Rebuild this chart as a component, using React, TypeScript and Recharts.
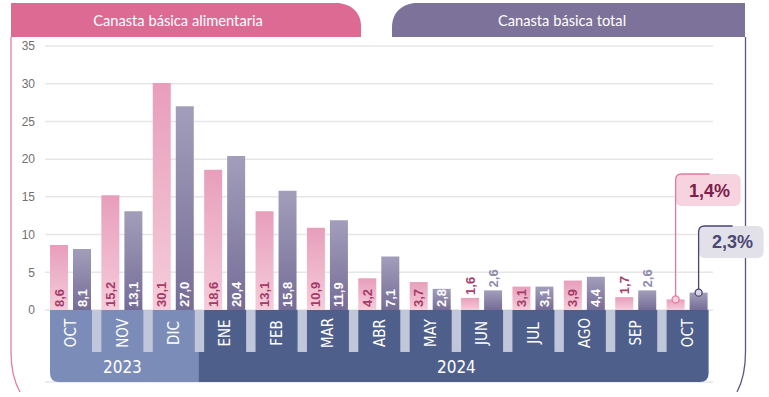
import { Bar, BarChart, CartesianGrid, XAxis, YAxis } from "recharts";

// Variación interanual (%) — octubre 2023 a octubre 2024
const months = ["OCT", "NOV", "DIC", "ENE", "FEB", "MAR", "ABR", "MAY", "JUN", "JUL", "AGO", "SEP", "OCT"];
const years = ["2023", "2023", "2023", "2024", "2024", "2024", "2024", "2024", "2024", "2024", "2024", "2024", "2024"];
const alimentaria = [8.6, 15.2, 30.1, 18.6, 13.1, 10.9, 4.2, 3.7, 1.6, 3.1, 3.9, 1.7, 1.4];
const total = [8.1, 13.1, 27.0, 20.4, 15.8, 11.9, 7.1, 2.8, 2.6, 3.1, 4.4, 2.6, 2.3];
const yTicks = [0, 5, 10, 15, 20, 25, 30, 35];
const seriesNames = ["Canasta básica alimentaria", "Canasta básica total"];

const W = 769;
const H = 397;
const PLOT_LEFT = 45;
const PLOT_RIGHT = 713;
const BAND = (PLOT_RIGHT - PLOT_LEFT) / months.length;
// the month/year strip lives below zero on the same value scale
const STRIP_DEPTH = -9.55;

const PINK = "#dc6a93";
const PURPLE = "#7d7299";
const YEAR_COLORS: Record<string, string> = { "2023": "#7a8cb7", "2024": "#4e5f8b" };
const NARROW = "'Liberation Sans Narrow', 'DejaVu Sans Condensed', 'Roboto', sans-serif";
const SANS = "'Liberation Sans', Arial, sans-serif";

const data = months.map((m, i) => ({
  key: `${m}-${years[i]}`,
  month: m,
  year: years[i],
  alimentaria: alimentaria[i],
  total: total[i],
  strip: STRIP_DEPTH,
}));

const fmt = (v: number) => v.toFixed(1).replace(".", ",");

function MonthStrip(props: any) {
  const { x, width, index } = props;
  const top = Math.min(props.y, props.y + props.height);
  const bottom = top + Math.abs(props.height);
  const gap = BAND - width;
  const first = index === 0;
  const last = index === months.length - 1;
  const yr = years[index];
  // small overlap so neighbouring segments don't leave hairline seams
  const left = first ? x : x - gap / 2 - 0.6;
  const right = last ? x + width : x + width + gap / 2 + 0.6;
  const r = 9;
  let d = `M${left},${top} L${right},${top} `;
  d += last ? `L${right},${bottom - r} Q${right},${bottom} ${right - r},${bottom} ` : `L${right},${bottom} `;
  d += first ? `L${left + r},${bottom} Q${left},${bottom} ${left},${bottom - r} ` : `L${left},${bottom} `;
  d += "Z";
  const cx = x + width / 2;
  const my = top + 23;
  return (
    <g>
      <path d={d} fill={YEAR_COLORS[yr]} />
      {!first && <rect x={x - gap} y={top} width={gap} height={42} fill="#c1c7db" />}
      <text
        x={cx}
        y={my}
        dy="0.35em"
        transform={`rotate(-90, ${cx}, ${my})`}
        textAnchor="middle"
        fill="#fff"
        fontSize={15}
        fontFamily={NARROW}
      >
        {months[index]}
      </text>
    </g>
  );
}

function YearLabel(props: any) {
  const { x, y, height, width, index } = props;
  const yr = years[index];
  if (index > 0 && years[index - 1] === yr) return <g key={`y-${index}`} />;
  const top = Math.min(y, y + height);
  const gap = BAND - width;
  const n = years.filter((v) => v === yr).length;
  return (
    <text
      key={`y-${index}`}
      x={x + (n * BAND - gap) / 2}
      y={top + 63}
      textAnchor="middle"
      fill="#fff"
      fontSize={17}
      fontFamily={NARROW}
    >
      {yr}
    </text>
  );
}

const CALLOUT = {
  alimentaria: { top: 174, fill: "#f7d3e0", stroke: "#e27a9f", text: "#7b2049", dot: "#f7d3e0", ty: 23 },
  total: { top: 226, fill: "#e2e1ea", stroke: "#4a4470", text: "#4b4672", dot: "#d8d6e3", ty: 22 },
};

function makeLabel(series: "alimentaria" | "total") {
  return (props: any) => {
    const { x, y, width, height, index, value } = props;
    const cx = x + width / 2;
    if (index === months.length - 1) {
      const c = CALLOUT[series];
      return (
        <g key={`c-${series}`}>
          <rect x={cx} y={c.top} width={65} height={32} rx={6} fill={c.fill} />
          <path
            d={`M${cx},${y - 3.5} L${cx},${c.top + 6} Q${cx},${c.top} ${cx + 6},${c.top} L${cx + 34},${c.top}`}
            fill="none"
            stroke={c.stroke}
            strokeWidth={1.3}
          />
          <circle cx={cx} cy={y} r={3.5} fill={c.dot} stroke={c.stroke} strokeWidth={1.3} />
          <text x={cx + 34} y={c.top + c.ty} textAnchor="middle" fontSize={18} fontWeight="bold" fill={c.text} fontFamily={SANS}>
            {fmt(value)}%
          </text>
        </g>
      );
    }
    const inside = height >= 20;
    const ay = inside ? y + height - 3 : y - 3;
    const fill =
      series === "alimentaria" ? (inside ? "#a53a67" : "#a8416e") : inside ? "#ffffff" : "#8f8aae";
    return (
      <text
        key={`${series}-${index}`}
        x={cx}
        y={ay}
        dy="0.35em"
        transform={`rotate(-90, ${cx}, ${ay})`}
        textAnchor="start"
        fontSize={13}
        fontWeight="bold"
        fill={fill}
        fontFamily={SANS}
      >
        {fmt(value)}
      </text>
    );
  };
}

function Frame() {
  return (
    <svg width={W} height={H} style={{ position: "absolute", left: 0, top: 0 }}>
      <path d="M11,37 L11,3 L336,3 C350,3 361,12 361,26 L361,37 Z" fill={PINK} />
      <path d="M745,37 L745,3 L417,3 C403,3 392,12 392,27 L392,37 Z" fill={PURPLE} />
      <text x={178} y={26} textAnchor="middle" fill="#fff" fontSize={14.7} fontFamily="Lato, sans-serif">
        {seriesNames[0]}
      </text>
      <text x={562} y={26} textAnchor="middle" fill="#fff" fontSize={14.7} fontFamily="Lato, sans-serif">
        {seriesNames[1]}
      </text>
      <path d="M11,37 L11,352 Q11,376 20,392" fill="none" stroke="#e07fa3" strokeWidth={1.3} />
      <path d="M745.5,37 L745.5,352 Q745.5,376 737,392" fill="none" stroke="#5e5682" strokeWidth={1.3} />
    </svg>
  );
}

export default function App() {
  return (
    <div style={{ position: "absolute", left: 0, top: 0, width: W, height: H, background: "#fff" }}>
      <Frame />
      <div style={{ position: "absolute", left: 0, top: 0 }}>
        <BarChart
          width={W}
          height={H}
          data={data}
          margin={{ top: 46, right: W - PLOT_RIGHT, bottom: 15, left: 0 }}
          barSize={18}
          barGap={5}
        >
          <defs>
            <linearGradient id="gPink" x1="0" y1="0" x2="0" y2="1">
              <stop offset="0%" stopColor="#e89ebb" />
              <stop offset="100%" stopColor="#f5ccda" />
            </linearGradient>
            <linearGradient id="gPurple" x1="0" y1="0" x2="0" y2="1">
              <stop offset="0%" stopColor="#a29eba" />
              <stop offset="100%" stopColor="#766d97" />
            </linearGradient>
          </defs>
          <CartesianGrid vertical={false} stroke="#e6e6e6" strokeWidth={1.5} />
          <XAxis dataKey="key" hide />
          <XAxis dataKey="key" xAxisId="strip" hide />
          <YAxis
            width={PLOT_LEFT}
            domain={[STRIP_DEPTH, 35]}
            ticks={yTicks}
            allowDataOverflow
            axisLine={false}
            tickLine={false}
            tickMargin={4}
            tick={{ fontSize: 12, fill: "#707070", fontFamily: SANS }}
          />
          <Bar
            dataKey="strip"
            xAxisId="strip"
            barSize={42}
            isAnimationActive={false}
            shape={(p: any) => <MonthStrip {...p} />}
            label={YearLabel}
          />
          <Bar dataKey="alimentaria" fill="url(#gPink)" isAnimationActive={false} label={makeLabel("alimentaria")} />
          <Bar dataKey="total" fill="url(#gPurple)" isAnimationActive={false} label={makeLabel("total")} />
        </BarChart>
      </div>
    </div>
  );
}
